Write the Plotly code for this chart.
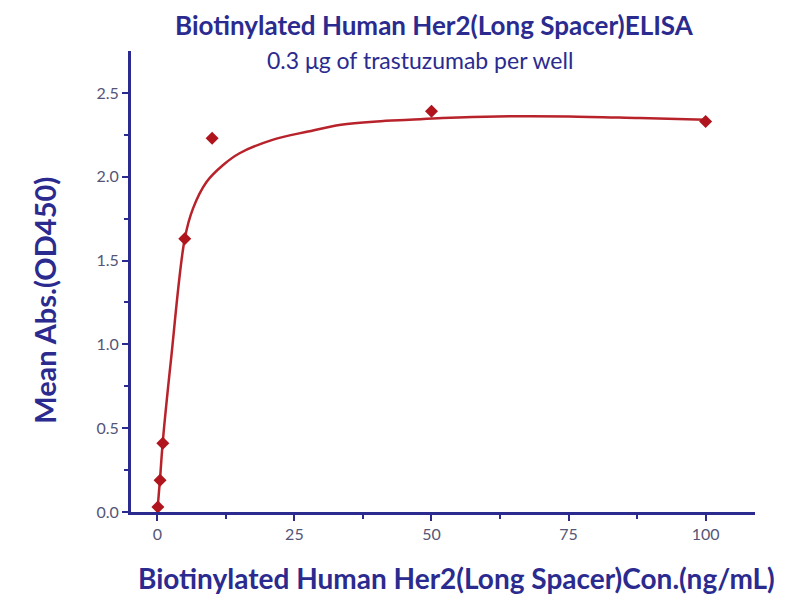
import plotly.graph_objects as go

# measured points (ng/mL vs OD450)
conc = [0.1, 0.5, 1, 5, 10, 50, 100]
od450 = [0.03, 0.19, 0.41, 1.63, 2.23, 2.39, 2.33]

# fitted curve
fit_x = [0, 0.5, 1, 2.5, 5, 6.5, 9, 12, 15, 21, 27.5, 33.5, 40, 46, 52, 62, 75, 88, 100]
fit_y = [0, 0.2, 0.42, 0.91, 1.63, 1.81, 1.97, 2.07, 2.14, 2.22, 2.27, 2.31, 2.33, 2.34, 2.35, 2.36, 2.36, 2.35, 2.34]

navy = "#2b2b8f"
font = "Lato"

fig = go.Figure()

fig.add_trace(go.Scatter(x=fit_x, y=fit_y, mode="lines", line=dict(color="#b8232b", width=2.5, shape="spline"),
                         showlegend=False, hoverinfo="skip"))
fig.add_trace(go.Scatter(x=conc, y=od450, mode="markers",
                         marker=dict(symbol="diamond", size=10, color="#b0141d"),
                         showlegend=False))

fig.update_xaxes(range=[-4.8, 109], tickvals=[0, 25, 50, 75, 100], showgrid=False, zeroline=False,
                 showline=True, linecolor=navy, linewidth=3, ticks="outside", ticklen=6, tickwidth=2,
                 tickcolor=navy, tickfont=dict(family=font, size=16, color="#555577"),
                 minor=dict(tickvals=[12.5, 37.5, 62.5, 87.5], ticks="outside", ticklen=4, tickwidth=2,
                            tickcolor=navy))
fig.update_yaxes(range=[0, 2.75], tickvals=[0, 0.5, 1, 1.5, 2, 2.5], tickformat=".1f", showgrid=False,
                 zeroline=False, showline=True, linecolor=navy, linewidth=3, ticks="outside", ticklen=6,
                 tickwidth=2, tickcolor=navy, tickfont=dict(family=font, size=16, color="#555577"),
                 minor=dict(tickvals=[0.25, 0.75, 1.25, 1.75, 2.25], ticks="outside", ticklen=4,
                            tickwidth=2, tickcolor=navy))

labels = [
    ("<b>Biotinylated Human Her2(Long Spacer)ELISA</b>", 0.487, 1.057, 26, 0),
    ("0.3 μg of trastuzumab per well", 0.463, 0.98, 23, 0),
    ("<b>Biotinylated Human Her2(Long Spacer)Con.(ng/mL)</b>", 0.522, -0.143, 28, 0),
    ("<b>Mean Abs.(OD450)</b>", -0.138, 0.46, 29, -90),
]
for text, x, y, size, angle in labels:
    fig.add_annotation(text=text, x=x, y=y, xref="paper", yref="paper", showarrow=False,
                       xanchor="center", yanchor="middle", textangle=angle,
                       font=dict(family=font, size=size, color=navy))

# page body adds an 8px offset, so margins are shifted to keep the plot area in place
fig.update_layout(width=800, height=600, margin=dict(l=123, r=53, t=43, b=96),
                  plot_bgcolor="white", paper_bgcolor="white")

fig.write_html("out.html")
